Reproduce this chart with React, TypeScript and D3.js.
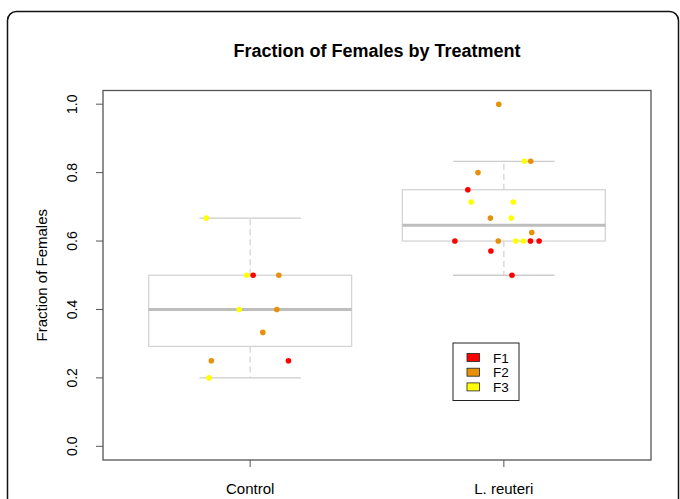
import React, { useEffect, useRef } from 'react';
import * as d3 from 'd3';

const categories = ['Control', 'L. reuteri'];
const yTicks = [0, 0.2, 0.4, 0.6, 0.8, 1.0];
const generations = ['F1', 'F2', 'F3'];
const genColors = ['#FF0000', '#E8900A', '#FFFF00'];

// box stats: lower whisker, lower hinge, median, upper hinge, upper whisker
const controlStats = [0.2, 0.292, 0.4, 0.5, 0.667];
const reuteriStats = [0.5, 0.6, 0.646, 0.75, 0.833];

// jittered points (x in category units)
const controlX = [0.827, 0.987, 1.012, 1.113, 0.957, 1.105, 1.05, 0.847, 1.151, 0.838];
const controlY = [0.667, 0.5, 0.5, 0.5, 0.4, 0.4, 0.333, 0.25, 0.25, 0.2];
const controlGen = ['F3', 'F3', 'F1', 'F2', 'F3', 'F2', 'F2', 'F2', 'F1', 'F3'];

const reuteriX = [1.98, 2.081, 2.106, 1.898, 1.858, 1.871, 2.037, 1.947, 2.029, 2.11, 1.807, 1.978, 2.047, 2.077, 2.105, 2.139, 1.949, 2.032];
const reuteriY = [1.0, 0.833, 0.833, 0.8, 0.75, 0.714, 0.714, 0.667, 0.667, 0.625, 0.6, 0.6, 0.6, 0.6, 0.6, 0.6, 0.571, 0.5];
const reuteriGen = ['F2', 'F3', 'F2', 'F2', 'F1', 'F3', 'F3', 'F2', 'F3', 'F2', 'F1', 'F2', 'F3', 'F3', 'F1', 'F1', 'F1', 'F1'];

const FONT = '"Liberation Sans", Arial, Helvetica, sans-serif';

export default function App() {
  const svgRef = useRef<SVGSVGElement>(null);

  useEffect(() => {
    if (!svgRef.current) return;
    const svg = d3.select(svgRef.current);
    svg.selectAll('*').remove();

    const left = 103;
    const right = 651;
    const top = 90.5;
    const bottom = 460;

    const x = d3.scaleLinear().domain([0.42, 2.58]).range([left, right]);
    const y = d3.scaleLinear().domain([-0.04, 1.04]).range([bottom, top]);
    const color = d3.scaleOrdinal<string, string>().domain(generations).range(genColors);

    // outer frame
    svg
      .append('rect')
      .attr('x', 7.5)
      .attr('y', 11.5)
      .attr('width', 671)
      .attr('height', 520)
      .attr('rx', 9)
      .attr('fill', 'white')
      .attr('stroke', '#111')
      .attr('stroke-width', 1.5);

    // title
    svg
      .append('text')
      .attr('x', (left + right) / 2)
      .attr('y', 57)
      .attr('text-anchor', 'middle')
      .style('font-family', FONT)
      .style('font-weight', 'bold')
      .style('font-size', '18px')
      .text('Fraction of Females by Treatment');

    // boxplots
    const groups = [
      { pos: 1, stats: controlStats },
      { pos: 2, stats: reuteriStats },
    ];
    const boxHalf = 0.4;
    const stapleHalf = 0.2;
    groups.forEach((gr) => {
      const [lo, q1, med, q3, hi] = gr.stats;
      const g = svg.append('g');
      g.append('line')
        .attr('x1', x(gr.pos)).attr('x2', x(gr.pos))
        .attr('y1', y(q3)).attr('y2', y(hi))
        .attr('stroke', '#d4d4d4').attr('stroke-width', 1.3).attr('stroke-dasharray', '6,4');
      g.append('line')
        .attr('x1', x(gr.pos)).attr('x2', x(gr.pos))
        .attr('y1', y(q1)).attr('y2', y(lo))
        .attr('stroke', '#d4d4d4').attr('stroke-width', 1.3).attr('stroke-dasharray', '6,4');
      [lo, hi].forEach((v) => {
        g.append('line')
          .attr('x1', x(gr.pos - stapleHalf)).attr('x2', x(gr.pos + stapleHalf))
          .attr('y1', y(v)).attr('y2', y(v))
          .attr('stroke', '#cccccc').attr('stroke-width', 1.3);
      });
      g.append('rect')
        .attr('x', x(gr.pos - boxHalf))
        .attr('y', y(q3))
        .attr('width', x(gr.pos + boxHalf) - x(gr.pos - boxHalf))
        .attr('height', y(q1) - y(q3))
        .attr('fill', 'none')
        .attr('stroke', '#d4d4d4')
        .attr('stroke-width', 1.3);
      g.append('line')
        .attr('x1', x(gr.pos - boxHalf)).attr('x2', x(gr.pos + boxHalf))
        .attr('y1', y(med)).attr('y2', y(med))
        .attr('stroke', '#bdbdbd').attr('stroke-width', 3);
    });

    // points
    const pts = [
      ...controlX.map((v, i) => ({ x: v, y: controlY[i], gen: controlGen[i] })),
      ...reuteriX.map((v, i) => ({ x: v, y: reuteriY[i], gen: reuteriGen[i] })),
    ];
    svg
      .append('g')
      .selectAll('circle')
      .data(pts)
      .enter()
      .append('circle')
      .attr('cx', (d) => x(d.x))
      .attr('cy', (d) => y(d.y))
      .attr('r', 2.8)
      .attr('fill', (d) => color(d.gen));

    // plot border
    svg
      .append('rect')
      .attr('x', left)
      .attr('y', top)
      .attr('width', right - left)
      .attr('height', bottom - top)
      .attr('fill', 'none')
      .attr('stroke', '#555')
      .attr('stroke-width', 1.3);

    // y axis (ticks off the plot border)
    yTicks.forEach((t) => {
      svg.append('line')
        .attr('x1', left).attr('x2', left - 7)
        .attr('y1', y(t)).attr('y2', y(t))
        .attr('stroke', '#555');
      svg.append('text')
        .attr('transform', `translate(77,${y(t)}) rotate(-90)`)
        .attr('text-anchor', 'middle')
        .style('font-family', FONT)
        .style('font-size', '14px')
        .text(d3.format('.1f')(t));
    });
    svg
      .append('text')
      .attr('transform', `translate(47,${(top + bottom) / 2}) rotate(-90)`)
      .attr('text-anchor', 'middle')
      .style('font-family', FONT)
      .style('font-size', '15px')
      .text('Fraction of Females');

    // x axis
    categories.forEach((c, i) => {
      svg.append('line')
        .attr('x1', x(i + 1)).attr('x2', x(i + 1))
        .attr('y1', bottom).attr('y2', bottom + 7)
        .attr('stroke', '#555');
      svg.append('text')
        .attr('x', x(i + 1))
        .attr('y', 494)
        .attr('text-anchor', 'middle')
        .style('font-family', FONT)
        .style('font-size', '15px')
        .text(c);
    });

    // legend
    const lg = svg.append('g').attr('transform', 'translate(453,343)');
    lg.append('rect')
      .attr('width', 66)
      .attr('height', 57.5)
      .attr('fill', 'white')
      .attr('stroke', '#222')
      .attr('stroke-width', 1);
    generations.forEach((gname, i) => {
      lg.append('rect')
        .attr('x', 14)
        .attr('y', 10.5 + i * 14.7)
        .attr('width', 12.5)
        .attr('height', 8)
        .attr('fill', color(gname))
        .attr('stroke', '#222')
        .attr('stroke-width', 0.8);
      lg.append('text')
        .attr('x', 40)
        .attr('y', 19.5 + i * 14.7)
        .style('font-family', FONT)
        .style('font-size', '13.5px')
        .text(gname);
    });
  }, []);

  return (
    <svg
      ref={svgRef}
      width={680}
      height={499}
      style={{ position: 'absolute', left: 0, top: 0, background: 'white' }}
    ></svg>
  );
}
